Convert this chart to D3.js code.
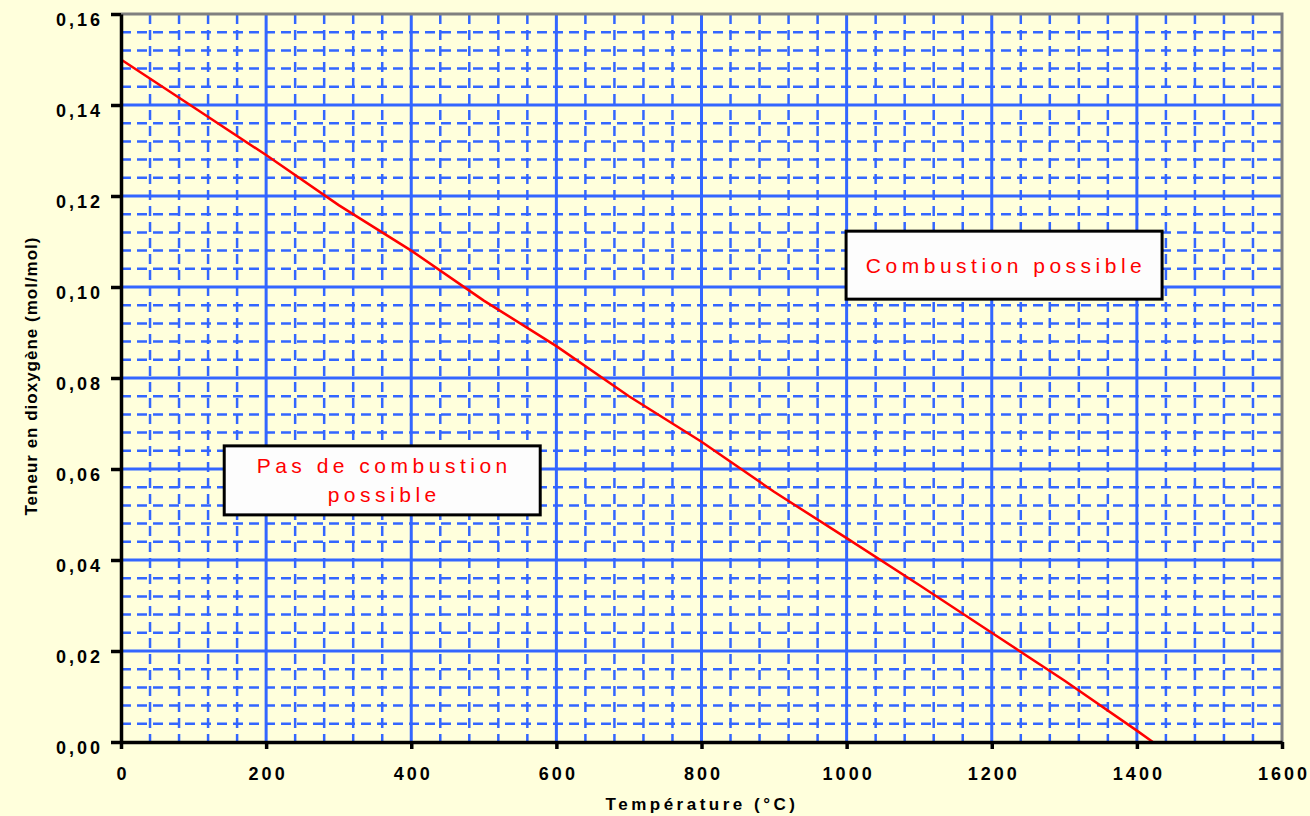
<!DOCTYPE html>
<html>
<head>
<meta charset="utf-8">
<script src="https://cdn.jsdelivr.net/npm/d3@7"></script>
<style>
  body { margin: 0; background: #ffffdc; }
  svg { display: block; }
  text { font-family: Arial, "Liberation Sans", sans-serif; }
</style>
</head>
<body>
<svg width="1310" height="816"></svg>
<script>
// readings
const temps = [0, 100, 200, 300, 400, 500, 600, 700, 800, 900, 1000, 1100, 1200, 1300, 1400, 1422];
const oxygen = [0.150, 0.1395, 0.129, 0.118, 0.108, 0.097, 0.087, 0.076, 0.066, 0.055, 0.0448, 0.0345, 0.024, 0.0135, 0.0025, 0];

const xTicks = [0, 200, 400, 600, 800, 1000, 1200, 1400, 1600];
const yTicks = [0, 0.02, 0.04, 0.06, 0.08, 0.10, 0.12, 0.14, 0.16];

const notes = [
  { lines: ['Combustion possible'], x: 1217, y: 0.1048, w: 316, h: 68 },
  { lines: ['Pas de combustion', 'possible'], x: 360, y: 0.0575, w: 316, h: 69 }
];

const svg = d3.select('svg');
const padL = 121, padR = 1282, padT = 14, padB = 742;

const x = d3.scaleLinear().domain([0, 1600]).range([padL, padR]);
const y = d3.scaleLinear().domain([0, 0.16]).range([padB, padT]);

const blue = '#3366ff';

// minor dashed grid
const grid = svg.append('g');
grid.selectAll('.vminor').data(d3.range(0, 1600, 40).filter(d => d % 200 != 0)).enter()
    .append('line')
    .attr('x1', d => x(d)).attr('x2', d => x(d))
    .attr('y1', padT).attr('y2', padB)
    .attr('stroke', blue).attr('stroke-width', 2.5)
    .attr('stroke-dasharray', '10,6');

grid.selectAll('.hminor').data(d3.range(1, 40).filter(i => i % 5 != 0).map(i => i * 0.004)).enter()
    .append('line')
    .attr('x1', padL).attr('x2', padR)
    .attr('y1', d => y(d)).attr('y2', d => y(d))
    .attr('stroke', blue).attr('stroke-width', 2.5)
    .attr('stroke-dasharray', '10,6');

// major grid
grid.selectAll('.vmajor').data(xTicks.slice(1, -1)).enter()
    .append('line')
    .attr('x1', d => x(d)).attr('x2', d => x(d))
    .attr('y1', padT).attr('y2', padB)
    .attr('stroke', blue).attr('stroke-width', 3);

grid.selectAll('.hmajor').data(yTicks.slice(1, -1)).enter()
    .append('line')
    .attr('x1', padL).attr('x2', padR)
    .attr('y1', d => y(d)).attr('y2', d => y(d))
    .attr('stroke', blue).attr('stroke-width', 3);

// gray frame top/right
svg.append('path')
    .attr('d', `M${padL},${padT}H${padR}V${padB}`)
    .attr('fill', 'none').attr('stroke', '#808080').attr('stroke-width', 3);

// curve
const line = d3.line().x((d, i) => x(temps[i])).y(d => y(d));
svg.append('path')
    .datum(oxygen)
    .attr('d', line)
    .attr('fill', 'none')
    .attr('stroke', '#ff0000')
    .attr('stroke-width', 2.5);

// axes
const fmt = d => d.toFixed(2).replace('.', ',');

const xAxis = svg.append('g')
    .attr('transform', `translate(0,${padB})`)
    .call(d3.axisBottom(x).tickValues(xTicks).tickFormat(d => String(d))
        .tickSize(7).tickSizeOuter(0).tickPadding(18));

const yAxis = svg.append('g')
    .attr('transform', `translate(${padL},0)`)
    .call(d3.axisLeft(y).tickValues(yTicks).tickFormat(fmt).tickSize(10).tickSizeOuter(0).tickPadding(8));

[xAxis, yAxis].forEach(a => {
  a.select('.domain').attr('stroke', '#000').attr('stroke-width', 3.5);
  a.selectAll('.tick line').attr('stroke', '#000').attr('stroke-width', 3.5);
  a.selectAll('.tick text')
      .attr('fill', '#000')
      .attr('font-size', 18)
      .attr('font-weight', 'bold')
      .attr('letter-spacing', 3);
});
yAxis.selectAll('.tick text').attr('dy', '0.62em');
xAxis.selectAll('.tick text').attr('dx', 1.5);

svg.append('text')
    .attr('x', 702).attr('y', 810)
    .attr('text-anchor', 'middle')
    .attr('font-size', 17).attr('font-weight', 'bold')
    .attr('letter-spacing', 3.5)
    .text('Température (°C)');

svg.append('text')
    .attr('transform', 'translate(37,376) rotate(-90)')
    .attr('text-anchor', 'middle')
    .attr('font-size', 17).attr('font-weight', 'bold')
    .attr('letter-spacing', 1)
    .text('Teneur en dioxygène (mol/mol)');

// annotation boxes
const box = svg.selectAll('.note').data(notes).enter().append('g');
box.append('rect')
    .attr('x', d => x(d.x) - d.w / 2)
    .attr('y', d => y(d.y) - d.h / 2)
    .attr('width', d => d.w).attr('height', d => d.h)
    .attr('fill', '#fdfdfd').attr('stroke', '#000').attr('stroke-width', 3);
box.each(function(d) {
  const n = d.lines.length;
  d3.select(this).selectAll('text').data(d.lines).enter()
      .append('text')
      .attr('x', x(d.x) + 2)
      .attr('y', (t, i) => y(d.y) + (i - (n - 1) / 2) * 29)
      .attr('dy', '0.35em')
      .attr('text-anchor', 'middle')
      .attr('fill', '#ff0000')
      .attr('font-size', 21)
      .attr('letter-spacing', 4.5)
      .text(t => t);
});
</script>
</body>
</html>
